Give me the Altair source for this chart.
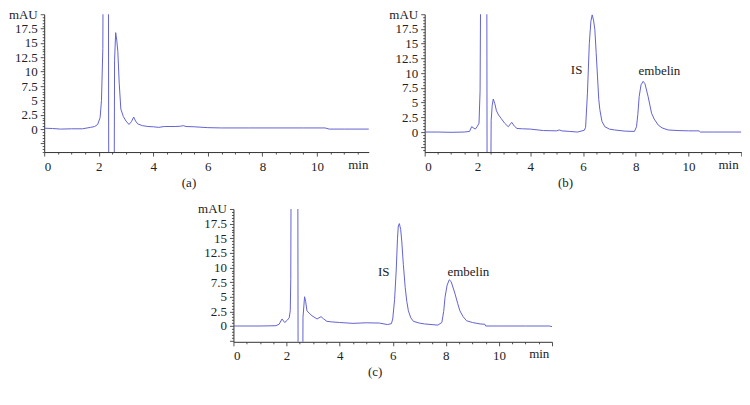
import altair as alt
import pandas as pd

# ---------------- data ----------------
# (a) blank
ta = [0, 0.3, 0.6, 1.0, 1.4, 1.7, 1.85, 1.96, 2.05, 2.1, 2.15, 2.17, 2.35, 2.37,
      2.56, 2.58, 2.62, 2.66, 2.7, 2.75, 2.81, 2.9, 3.0, 3.11, 3.2, 3.28, 3.35,
      3.43, 3.6, 3.8, 4.0, 4.2, 4.4, 4.8, 5.0, 5.1, 5.2, 5.5, 6.0, 6.5, 7.5, 8.5,
      9.5, 10.3, 10.45, 11, 12]
va = [0.15, 0.1, 0.0, 0.05, 0.05, 0.3, 0.45, 0.8, 2.0, 5.0, 14, 40, 40, -20,
      -20, 12, 16.8, 15.5, 13.5, 8, 3.5, 2.2, 1.4, 0.8, 1.3, 2.1, 1.4,
      0.9, 0.6, 0.45, 0.4, 0.3, 0.45, 0.45, 0.5, 0.6, 0.45, 0.4, 0.25, 0.2, 0.2, 0.2,
      0.2, 0.2, 0.0, 0.0, 0.0]

# (b) standard
tb = [0, 0.5, 1.0, 1.5, 1.7, 1.78, 1.85, 1.92, 2.0, 2.06, 2.1, 2.14, 2.16, 2.35,
      2.37, 2.49, 2.52, 2.56, 2.6, 2.66, 2.72, 2.8, 2.9, 3.03, 3.17, 3.3, 3.4,
      3.5, 3.7, 4.0, 4.5, 5.0, 5.1, 5.2, 5.5, 5.8, 6.05, 6.1, 6.17, 6.24, 6.3,
      6.35, 6.4, 6.45, 6.5, 6.55, 6.6, 6.64, 6.72, 6.83, 7.0, 7.2, 7.6, 7.95,
      8.03, 8.08, 8.13, 8.2, 8.28, 8.35, 8.47, 8.6, 8.7, 8.85, 9.0, 9.23, 9.6,
      10.0, 10.4, 10.45, 11, 12]
vb = [0.0, 0.0, -0.05, 0.0, 0.1, 0.9, 0.7, 0.5, 1.0, 1.5, 7, 40, 40, 40,
      -20, -20, 2.0, 4.5, 5.6, 4.8, 3.6, 2.9, 2.3, 1.5, 0.9, 1.65, 1.0,
      0.6, 0.55, 0.5, 0.25, 0.2, 0.35, 0.2, 0.1, 0.0, 0.3, 0.8, 6.6, 15, 18.8,
      19.9, 19.0, 17.4, 13.5, 9.5, 5.5, 3.8, 1.8, 0.9, 0.5, 0.35, 0.15, 0.1,
      0.9, 3.0, 6.0, 8.0, 8.6, 8.2, 6.0, 3.2, 2.2, 1.2, 0.7, 0.35, 0.25,
      0.2, 0.2, 0.0, 0.0, 0.0]

# (c) sample
tc = [0, 1.0, 1.6, 1.72, 1.83, 1.93, 2.03, 2.1, 2.14, 2.16, 2.18, 2.42, 2.44,
      2.6, 2.62, 2.68, 2.72, 2.77, 2.85, 2.96, 3.15, 3.3, 3.4, 3.52, 3.7, 4.0,
      4.5, 5.0, 5.5, 5.8, 5.95, 6.0, 6.07, 6.13, 6.18, 6.21, 6.25, 6.3, 6.34,
      6.4, 6.47, 6.53, 6.59, 6.68, 6.78, 7.0, 7.2, 7.7, 7.85, 7.92, 7.97, 8.05,
      8.13, 8.2, 8.35, 8.45, 8.53, 8.65, 8.78, 9.0, 9.29, 9.47, 9.5, 10, 11,
      11.9, 12]
vc = [0.0, 0.0, 0.05, 0.3, 1.2, 0.6, 1.0, 1.4, 2.6, 8, 40, 40, -20,
      -20, 1.5, 5.0, 4.2, 2.6, 2.2, 1.75, 1.2, 1.6, 1.2, 0.8, 0.7, 0.6,
      0.45, 0.55, 0.5, 0.25, 0.4, 1.2, 4.5, 9.4, 15, 17.1, 17.5, 16.5, 14.5,
      10.5, 6.6, 4.2, 2.6, 1.4, 0.8, 0.5, 0.35, 0.15, 0.6, 2.5, 4.9, 7.0,
      7.9, 7.6, 5.45, 3.8, 2.6, 1.6, 0.9, 0.6, 0.35, 0.3, 0.0, 0.0, 0.0,
      0.0, -0.1]

# peak annotations
lab_b_t = [5.76, 8.9]
lab_b_v = [10.6, 10.4]
lab_c_t = [5.66, 8.85]
lab_c_v = [9.25, 9.25]
lab_text = ["IS", "embelin"]

panel_titles = ["(a)", "(b)", "(c)"]

assert len(ta) == len(va) and len(tb) == len(vb) and len(tc) == len(vc)

FONT = "Liberation Serif"
LINE = "#6262d2"
INK = "#222222"


def panel(t, v, xmax, ymin, width, height, title, lt=None, lv=None):
    df = pd.DataFrame({"t": t, "v": v})
    xvals = [k * 0.5 for k in range(0, int(xmax * 2) + 1)]
    yvals = [k * 0.5 for k in range(int(ymin * 2), 41) if k * 0.5 >= ymin]
    xaxis = alt.Axis(
        values=xvals,
        labelExpr="datum.value == 11.5 ? 'min' : ((datum.value % 2 == 0 && datum.value <= 10) ? '' + datum.value : '')",
        tickSize={"condition": {"test": "datum.value % 2 == 0", "value": 4}, "value": 2},
        labelOverlap=False,
        labelPadding=4,
        grid=False,
        title=title,
        titleX=width / 2 - 18,
        titleY=24,
        titleBaseline="top",
        titleAlign="center",
        titleFontWeight="normal",
    )
    yaxis = alt.Axis(
        values=yvals,
        labelExpr="datum.value == 20 ? 'mAU' : ((datum.value >= 0 && datum.value % 2.5 == 0) ? '' + datum.value : '')",
        tickSize={"condition": {"test": "datum.value % 2.5 == 0", "value": 4}, "value": 2},
        labelOverlap=False,
        labelPadding=3,
        grid=False,
        title=None,
        minExtent=35,
        maxExtent=35,
    )
    xs = alt.Scale(domain=[0, xmax], nice=False, zero=False)
    ys = alt.Scale(domain=[ymin, 20], nice=False, zero=False)
    line = alt.Chart(df).mark_line(clip=True, color=LINE, strokeWidth=1).encode(
        x=alt.X("t:Q", scale=xs, axis=xaxis),
        y=alt.Y("v:Q", scale=ys, axis=yaxis),
    )
    layers = [line]
    if lt is not None:
        ldf = pd.DataFrame({"t": lt, "v": lv, "s": lab_text})
        txt = alt.Chart(ldf).mark_text(font=FONT, fontSize=13, color=INK).encode(
            x=alt.X("t:Q", scale=xs, axis=xaxis),
            y=alt.Y("v:Q", scale=ys, axis=yaxis),
            text="s:N",
        )
        layers.append(txt)
    return alt.layer(*layers).properties(width=width, height=height)


a = panel(ta, va, 11.9, -4.0, 325, 138, panel_titles[0])
b = panel(tb, vb, 12.0, -3.4, 317, 138, panel_titles[1], lab_b_t, lab_b_v)
c = panel(tc, vc, 12.0, -2.7, 319, 133, panel_titles[2], lab_c_t, lab_c_v)

top = alt.hconcat(a, b, spacing=20)
chart = alt.vconcat(top, c, spacing=14, center=True).properties(
    padding={"left": 0, "top": 0, "right": 0, "bottom": 0},
    background="white",
).configure_view(stroke=None).configure_axis(
    labelFont=FONT,
    labelFontSize=13,
    labelColor=INK,
    titleFont=FONT,
    titleFontSize=13,
    titleColor=INK,
    domainColor="#333333",
    tickColor="#555555",
    domainWidth=1,
    tickWidth=1,
)

chart.save("out.html", embed_options={"renderer": "svg", "actions": False})
